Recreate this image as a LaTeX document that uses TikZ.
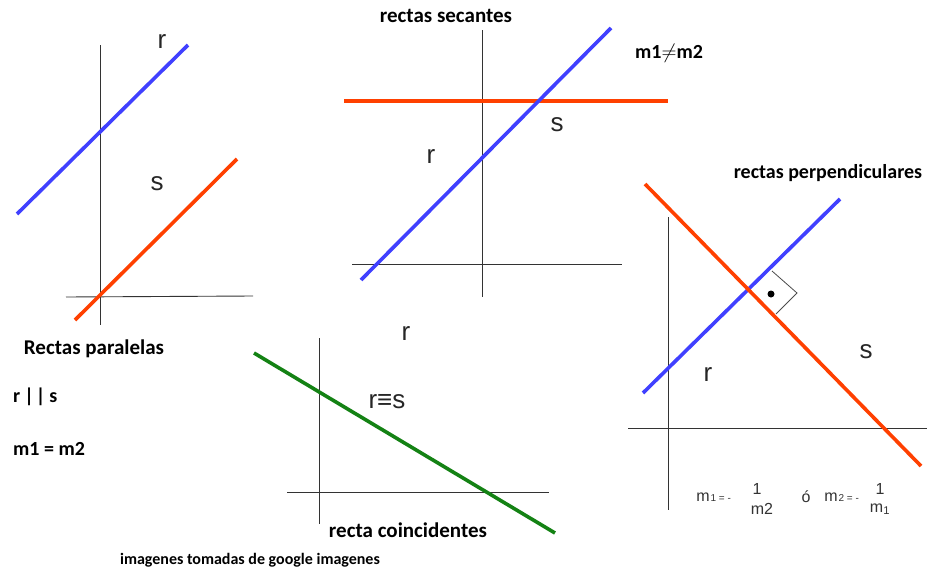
\documentclass[tikz,border=0pt]{standalone}
\usepackage{fontspec}
\setmainfont{Liberation Sans}
\newfontfamily\titlefont{Carlito}
\begin{document}
\begin{tikzpicture}[x=1pt,y=-1pt,
  axis/.style={draw=black!80,line width=0.9pt},
  bline/.style={draw={rgb,255:red,64;green,64;blue,255},line width=3.6pt},
  rline/.style={draw={rgb,255:red,255;green,64;blue,0},line width=3.6pt},
  gline/.style={draw={rgb,255:red,20;green,130;blue,20},line width=3.6pt},
  lbl/.style={font=\fontsize{26}{28}\selectfont,text=black!85,inner sep=0pt},
  ttl/.style={font=\titlefont\bfseries\fontsize{21}{23}\selectfont,inner sep=0pt},
  frm/.style={font=\fontsize{16}{18}\selectfont,text=black!80,inner sep=0pt},
  sub/.style={font=\fontsize{10}{11}\selectfont,text=black!80,inner sep=0pt}]
\useasboundingbox (0,0) rectangle (927,573);
\fill[white] (0,0) rectangle (927,573);
% ---------- panel 1: parallel
\coordinate (a1t) at (100,45); \coordinate (a1b) at (100,325);
\coordinate (h1l) at (66,297); \coordinate (h1r) at (253,296);
\draw[axis] (a1t) -- (a1b);
\draw[axis] (h1l) -- (h1r);
\coordinate (r1a) at (17,214); \coordinate (r1b) at (188,45);
\coordinate (s1a) at (75,320); \coordinate (s1b) at (237,159);
\draw[bline] (r1a) -- (r1b);
\draw[rline] (s1a) -- (s1b);
\node[lbl] (r1) at (162,42) {r};
\node[lbl] (s1) at (157,184) {s};
\node[ttl] (t1) at (94,349) {Rectas paralelas};
\node[ttl,font=\titlefont\bfseries\fontsize{20}{22}\selectfont,anchor=west] (p1) at (13,397) {r\hspace{4pt}|\hspace{2pt}|\hspace{4pt}s};
\node[ttl,font=\titlefont\bfseries\fontsize{20}{22}\selectfont,anchor=west] (p2) at (13,449) {m1 = m2};
% ---------- panel 2: secantes
\node[ttl] (t2) at (446,16) {rectas secantes};
\coordinate (a2t) at (482,30); \coordinate (a2b) at (482,297);
\coordinate (h2l) at (352,264); \coordinate (h2r) at (622,264);
\draw[axis] (a2t) -- (a2b);
\draw[axis] (h2l) -- (h2r);
\coordinate (r2a) at (361,280); \coordinate (r2b) at (611,28);
\coordinate (s2a) at (344,101); \coordinate (s2b) at (668,101);
\draw[rline] (s2a) -- (s2b);
\draw[bline] (r2a) -- (r2b);
\node[lbl] (r2) at (431,157) {r};
\node[lbl] (s2) at (557,125) {s};
\node[ttl,font=\titlefont\bfseries\fontsize{20}{22}\selectfont,anchor=west] (m2) at (635,53) {m1\ensuremath{\neq}m2};
% ---------- panel 3: coincidentes
\coordinate (a3t) at (319,338); \coordinate (a3b) at (319,524);
\coordinate (h3l) at (287,492); \coordinate (h3r) at (549,492);
\draw[axis] (a3t) -- (a3b);
\draw[axis] (h3l) -- (h3r);
\coordinate (g3a) at (254,353); \coordinate (g3b) at (555,533);
\draw[gline] (g3a) -- (g3b);
\node[lbl] (r3) at (406,334) {r};
\node[lbl] (rs3) at (387,402) {r≡s};
\node[ttl] (t3) at (408,530) {recta coincidentes};
% ---------- panel 4: perpendiculares
\node[ttl,font=\titlefont\bfseries\fontsize{20}{22}\selectfont] (t4) at (828,173) {rectas perpendiculares};
\coordinate (a4t) at (668,217); \coordinate (a4b) at (668,510);
\coordinate (h4l) at (628,428); \coordinate (h4r) at (927,428);
\draw[axis] (a4t) -- (a4b);
\draw[axis] (h4l) -- (h4r);
\coordinate (q1) at (772,271); \coordinate (q2) at (797,293); \coordinate (q3) at (776,314);
\draw[draw=black!70,line width=0.8pt] (q1) -- (q2) -- (q3);
\coordinate (r4a) at (643,393); \coordinate (r4b) at (840,199);
\coordinate (s4a) at (645,184); \coordinate (s4b) at (921,466);
\draw[bline] (r4a) -- (r4b);
\draw[rline] (s4a) -- (s4b);
\fill[black] (771,294) circle (3.5);
\node[lbl] (r4) at (708,375) {r};
\node[lbl] (s4) at (866,352) {s};
% formula
\node[frm] (f1) at (703,497) {m};
\node[sub,anchor=base west] (f1s) at ([xshift=0.5pt]f1.base east) {1 = -};
\node[frm] (f1n) at (757,489) {1};
\node[frm] (f1d) at (762,509) {m2};
\node[frm] (fo) at (806,497) {ó};
\node[frm] (f2) at (831,497) {m};
\node[sub,anchor=base west] (f2s) at ([xshift=0.5pt]f2.base east) {2 = -};
\node[frm] (f2n) at (880,489) {1};
\node[frm] (f2d) at (880,509) {m\textsubscript{1}};
% caption
\node[ttl,font=\titlefont\bfseries\fontsize{16}{18}\selectfont] (cap) at (250,560) {imagenes tomadas de google imagenes};
\end{tikzpicture}
\end{document}
